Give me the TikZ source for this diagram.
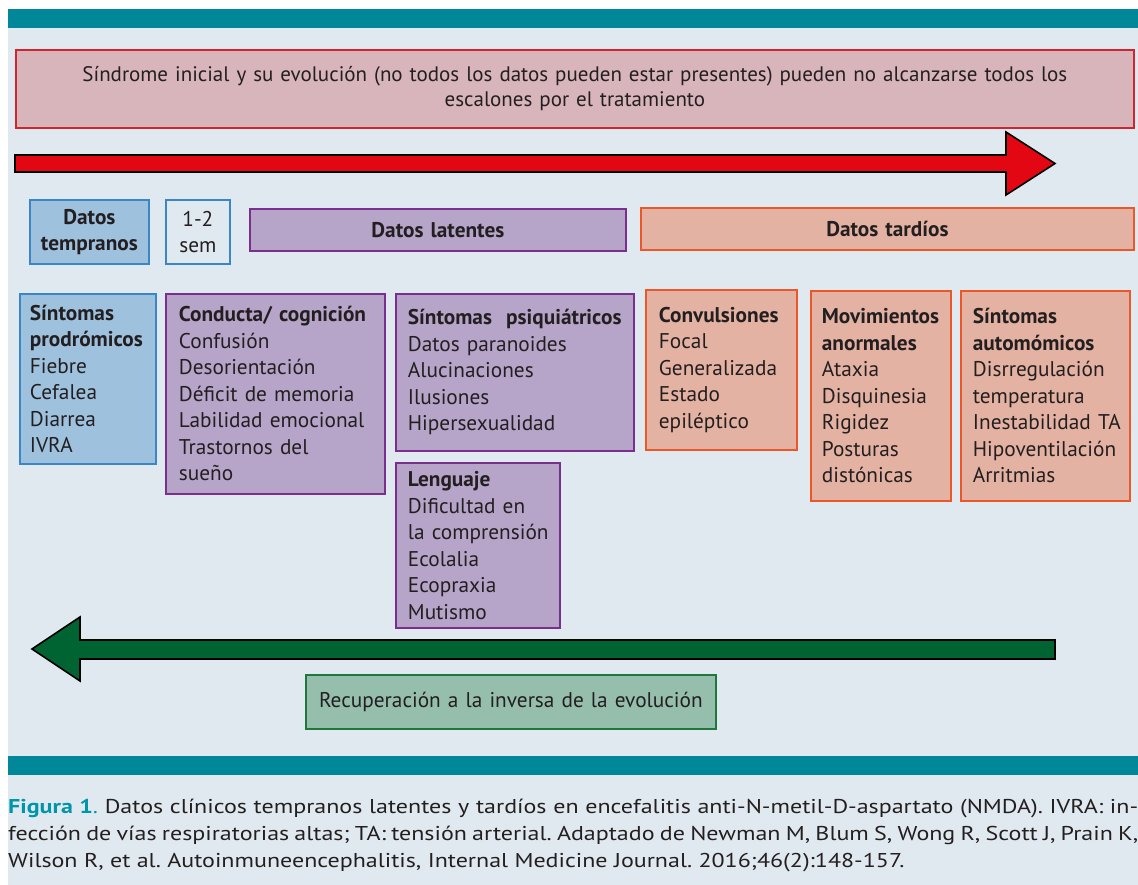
\documentclass[tikz,border=0pt]{standalone}
\usepackage{fontspec}
\setmainfont{PT Sans}
\newfontfamily\capfont[FakeStretch=1.2]{PT Sans}
\usepackage{tikz}
\usetikzlibrary{positioning}

\definecolor{panelbg}{RGB}{225,233,240}
\definecolor{tealbar}{RGB}{0,135,154}
\definecolor{capteal}{RGB}{0,150,170}
\definecolor{pinkfill}{RGB}{216,180,187}
\definecolor{pinkline}{RGB}{208,36,48}
\definecolor{redarrow}{RGB}{227,6,19}
\definecolor{bluefill}{RGB}{158,193,222}
\definecolor{blueline}{RGB}{58,134,198}
\definecolor{purplefill}{RGB}{182,164,201}
\definecolor{purpleline}{RGB}{122,46,142}
\definecolor{orangefill}{RGB}{228,178,162}
\definecolor{orangeline}{RGB}{234,88,42}
\definecolor{greenarrow}{RGB}{0,100,50}
\definecolor{greenfill}{RGB}{149,190,173}
\definecolor{greenline}{RGB}{30,120,60}
\definecolor{ink}{RGB}{35,31,32}

\begin{document}
\begin{tikzpicture}[x=1pt, y=-1pt,
	every node/.style={text=ink, font=\fontsize{21.3}{26.5}\selectfont},
	box/.style={draw, line width=1.8pt, anchor=north west, inner xsep=12pt, inner ysep=0pt, align=left},
	bluebox/.style={box, draw=blueline, fill=bluefill},
	purplebox/.style={box, draw=purpleline, fill=purplefill},
	orangebox/.style={box, draw=orangeline, fill=orangefill},
	blockarrow/.style={draw=black, line width=1.6pt, line join=miter}]
	\useasboundingbox (0, 0) rectangle (1138, 885);
	% background and bars
	\fill[panelbg] (8, 9) rectangle (1138, 885);
	\fill[tealbar] (8, 9) rectangle (1138, 28);
	\fill[tealbar] (8, 756) rectangle (1138, 775);
	% header
	\node[box, draw=pinkline, fill=pinkfill, align=center, minimum width=1118pt, minimum height=78pt, text width=1094pt, font=\fontsize{21}{25}\selectfont] (inicio) at (15, 49)
		{Síndrome inicial y su evolución (no todos los datos pueden estar presentes) pueden no alcanzarse todos los\\escalones por el tratamiento};
	\filldraw[blockarrow, fill=redarrow] (15, 155) -- (1006, 155) -- (1006, 132) -- (1055, 163.5) -- (1006, 195) -- (1006, 172) -- (15, 172) -- cycle;
	% stages
	\node[bluebox, align=center, inner xsep=2pt, minimum width=119pt, minimum height=64pt, text width=115pt] (tempranos) at (29, 199) {\textbf{Datos}\\\textbf{tempranos}};
	\node[box, draw=blueline, fill=panelbg, align=center, inner xsep=2pt, minimum width=64pt, minimum height=64pt, text width=60pt] (sem) at (165, 199) {1-2\\sem};
	\node[purplebox, align=center, minimum width=376pt, minimum height=42pt, text width=352pt] (latentes) at (249, 208) {\textbf{Datos latentes}};
	\node[orangebox, align=center, minimum width=493pt, minimum height=42pt, text width=469pt] (tardios) at (640, 207) {\textbf{Datos tardíos}};
	% symptoms
	\node[bluebox, inner xsep=10pt, minimum width=136pt, minimum height=170pt, text width=116pt] (prodromicos) at (19, 293)
		{\textbf{Síntomas}\\\mbox{\textbf{prodrómicos}}\\Fiebre\\Cefalea\\Diarrea\\IVRA};
	\node[purplebox, inner xsep=13pt, minimum width=219pt, minimum height=200pt, text width=193pt] (conducta) at (165, 293)
		{\mbox{\textbf{Conducta/ cognición}}\\Confusión\\Desorientación\\Déficit de memoria\\\mbox{Labilidad emocional}\\Trastornos del\\sueño};
	\node[purplebox, minimum width=238pt, minimum height=157pt, text width=214pt] (psiquiatricos) at (395, 293)
		{\mbox{\textbf{Síntomas\ \ psiquiátricos}}\\Datos paranoides\\Alucinaciones\\Ilusiones\\Hipersexualidad};
	\node[purplebox, minimum width=164pt, minimum height=165pt, text width=140pt] (lenguaje) at (395, 462)
		{\textbf{Lenguaje}\\Dificultad en\\\mbox{la comprensión}\\Ecolalia\\Ecopraxia\\Mutismo};
	\node[orangebox, inner xsep=13pt, minimum width=151pt, minimum height=160pt, text width=125pt] (convulsiones) at (645, 289)
		{\textbf{Convulsiones}\\Focal\\Generalizada\\Estado\\epiléptico};
	\node[orangebox, inner xsep=11pt, minimum width=140pt, minimum height=210pt, text width=118pt] (movimientos) at (810, 290)
		{\mbox{\textbf{Movimientos}}\\\textbf{anormales}\\Ataxia\\Disquinesia\\Rigidez\\Posturas\\distónicas};
	\node[orangebox, minimum width=169pt, minimum height=210pt, text width=145pt] (autonomicos) at (960, 290)
		{\textbf{Síntomas}\\\textbf{automómicos}\\\mbox{Disrregulación}\\temperatura\\\mbox{Inestabilidad TA}\\\mbox{Hipoventilación}\\Arritmias};
	% recovery
	\filldraw[blockarrow, fill=greenarrow] (1055, 640) -- (80, 640) -- (80, 617) -- (32, 649) -- (80, 681) -- (80, 659) -- (1055, 659) -- cycle;
	\node[box, draw=greenline, fill=greenfill, align=center, minimum width=410pt, minimum height=54pt, text width=386pt] (recuperacion) at (305, 674)
		{Recuperación a la inversa de la evolución};
	% caption
	\node[anchor=north west, inner sep=0pt, align=justify, text width=1130pt, font=\capfont\fontsize{20}{27}\selectfont\frenchspacing] (pie) at (8, 799)
		{{\color{capteal}\textbf{Figura 1}.} Datos clínicos tempranos latentes y tardíos en encefalitis anti-N-metil-D-aspartato (NMDA). IVRA: in-\linebreak fección de vías respiratorias altas; TA: tensión arterial. Adaptado de Newman M, Blum S, Wong R, Scott J, Prain K,\linebreak Wilson R, et al. Autoinmuneencephalitis, Internal Medicine Journal. 2016;46(2):148-157.};
\end{tikzpicture}
\end{document}
